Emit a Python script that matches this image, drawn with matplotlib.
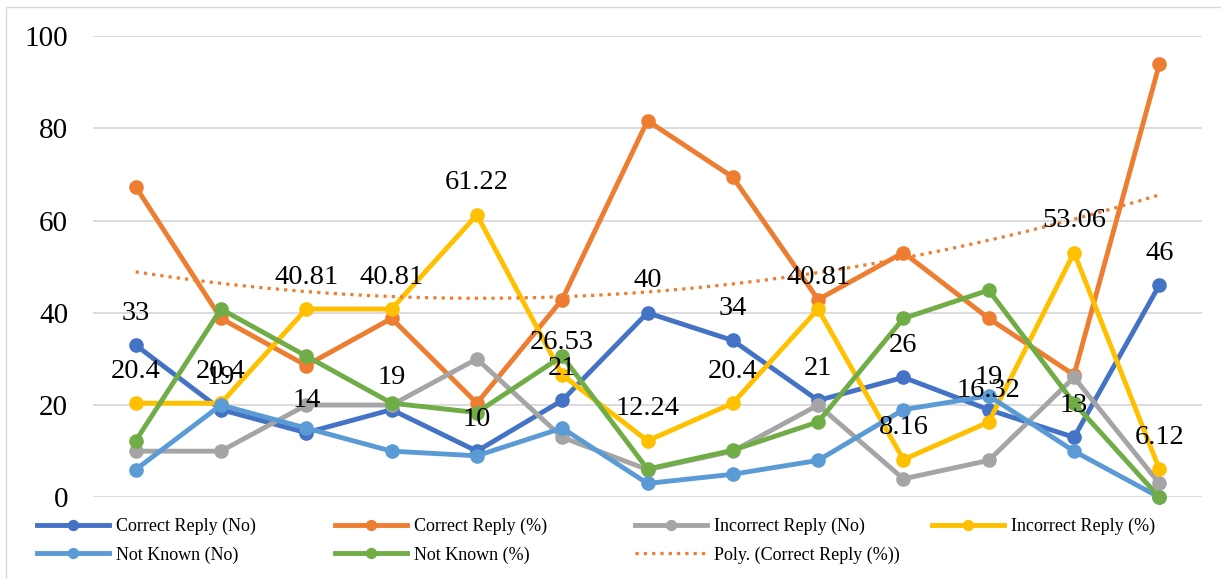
import numpy as np
import matplotlib
matplotlib.use("Agg")
import matplotlib.pyplot as plt
from matplotlib.patches import Rectangle

plt.rcParams['font.family'] = ['Liberation Serif', 'DejaVu Serif']

# ---- data ----
categories = list(range(1, 14))
correct_no = [33, 19, 14, 19, 10, 21, 40, 34, 21, 26, 19, 13, 46]
correct_pct = [67.35, 38.78, 28.57, 38.78, 20.41, 42.86, 81.63, 69.39, 42.86, 53.06, 38.78, 26.53, 93.88]
incorrect_no = [10, 10, 20, 20, 30, 13, 6, 10, 20, 4, 8, 26, 3]
incorrect_pct = [20.4, 20.4, 40.81, 40.81, 61.22, 26.53, 12.24, 20.4, 40.81, 8.16, 16.32, 53.06, 6.12]
incorrect_pct_labels = ["20.4", "20.4", "40.81", "40.81", "61.22", "26.53", "12.24", "20.4",
                        "40.81", "8.16", "16.32", "53.06", "6.12"]
notknown_no = [6, 20, 15, 10, 9, 15, 3, 5, 8, 19, 22, 10, 0]
notknown_pct = [12.24, 40.81, 30.61, 20.41, 18.37, 30.61, 6.12, 10.2, 16.33, 38.78, 44.9, 20.41, 0]
yticks = [0, 20, 40, 60, 80, 100]

series = [
    ("Correct Reply (No)", correct_no, "#4472C4"),
    ("Correct Reply (%)", correct_pct, "#ED7D31"),
    ("Incorrect Reply (No)", incorrect_no, "#A5A5A5"),
    ("Incorrect Reply (%)", incorrect_pct, "#FFC000"),
    ("Not Known (No)", notknown_no, "#5B9BD5"),
    ("Not Known (%)", notknown_pct, "#70AD47"),
]

W, H = 1221, 579
fig = plt.figure(figsize=(W / 100, H / 100), dpi=100)
ax = fig.add_axes([93 / W, 1 - 497.3 / H, (1202 - 93) / W, (497.3 - 36) / H])

x = np.arange(len(categories))
handles = {}
for i, (name, vals, col) in enumerate(series):
    ln, = ax.plot(x, vals, color=col, lw=3.5, marker='o', ms=9.5, label=name,
                  clip_on=False, zorder=3 + i * 0.1, solid_joinstyle='round')
    handles[name] = ln

# polynomial trendline (order 2) of Correct Reply (%)
coef = np.polyfit(np.arange(1, 14), correct_pct, 2)
xs = np.linspace(1, 13, 300)
tr, = ax.plot(xs - 1, np.polyval(coef, xs), color="#ED7D31", lw=2.3,
              linestyle=(0, (1, 1.6)), dash_capstyle='butt', zorder=4,
              label="Poly. (Correct Reply (%))")
handles["Poly. (Correct Reply (%))"] = tr

# data labels
for xi, v in zip(x, correct_no):
    ax.annotate(str(v), (xi, v), xytext=(0, 23), textcoords='offset points',
                ha='center', va='center', fontsize=20.5, color='black', zorder=10,
                annotation_clip=False)
for xi, v, s in zip(x, incorrect_pct, incorrect_pct_labels):
    ax.annotate(s, (xi, v), xytext=(0, 23), textcoords='offset points',
                ha='center', va='center', fontsize=20.5, color='black', zorder=10,
                annotation_clip=False)

ax.set_xlim(-0.5, len(categories) - 0.5)
ax.set_ylim(0, 100)
ax.set_yticks(yticks)
ax.set_xticks([])
ax.tick_params(axis='y', length=0, pad=18, labelsize=21, labelcolor='black')
for s in ax.spines.values():
    s.set_visible(False)
ax.grid(axis='y', color='#D9D9D9', lw=1.3, zorder=0)
ax.set_axisbelow(True)

# legend, laid out as four columns
cols = [
    ["Correct Reply (No)", "Not Known (No)"],
    ["Correct Reply (%)", "Not Known (%)"],
    ["Incorrect Reply (No)", "Poly. (Correct Reply (%))"],
    ["Incorrect Reply (%)"],
]
col_x = [37, 335, 635, 932]
for cx, names in zip(col_x, cols):
    fig.legend([handles[n] for n in names], names, loc='upper left',
               bbox_to_anchor=(cx / W, 1 - 518 / H), frameon=False,
               borderpad=0, borderaxespad=0, handlelength=4.0,
               handletextpad=0.35, labelspacing=0.62, fontsize=13,
               numpoints=1, markerscale=0.75)

# chart area border
fig.patches.append(Rectangle((6 / W, -0.2), 1.2, 1.2 - 7 / H, transform=fig.transFigure,
                             fill=False, edgecolor='#D9D9D9', lw=1.0))

fig.savefig("out.png", dpi=100)
